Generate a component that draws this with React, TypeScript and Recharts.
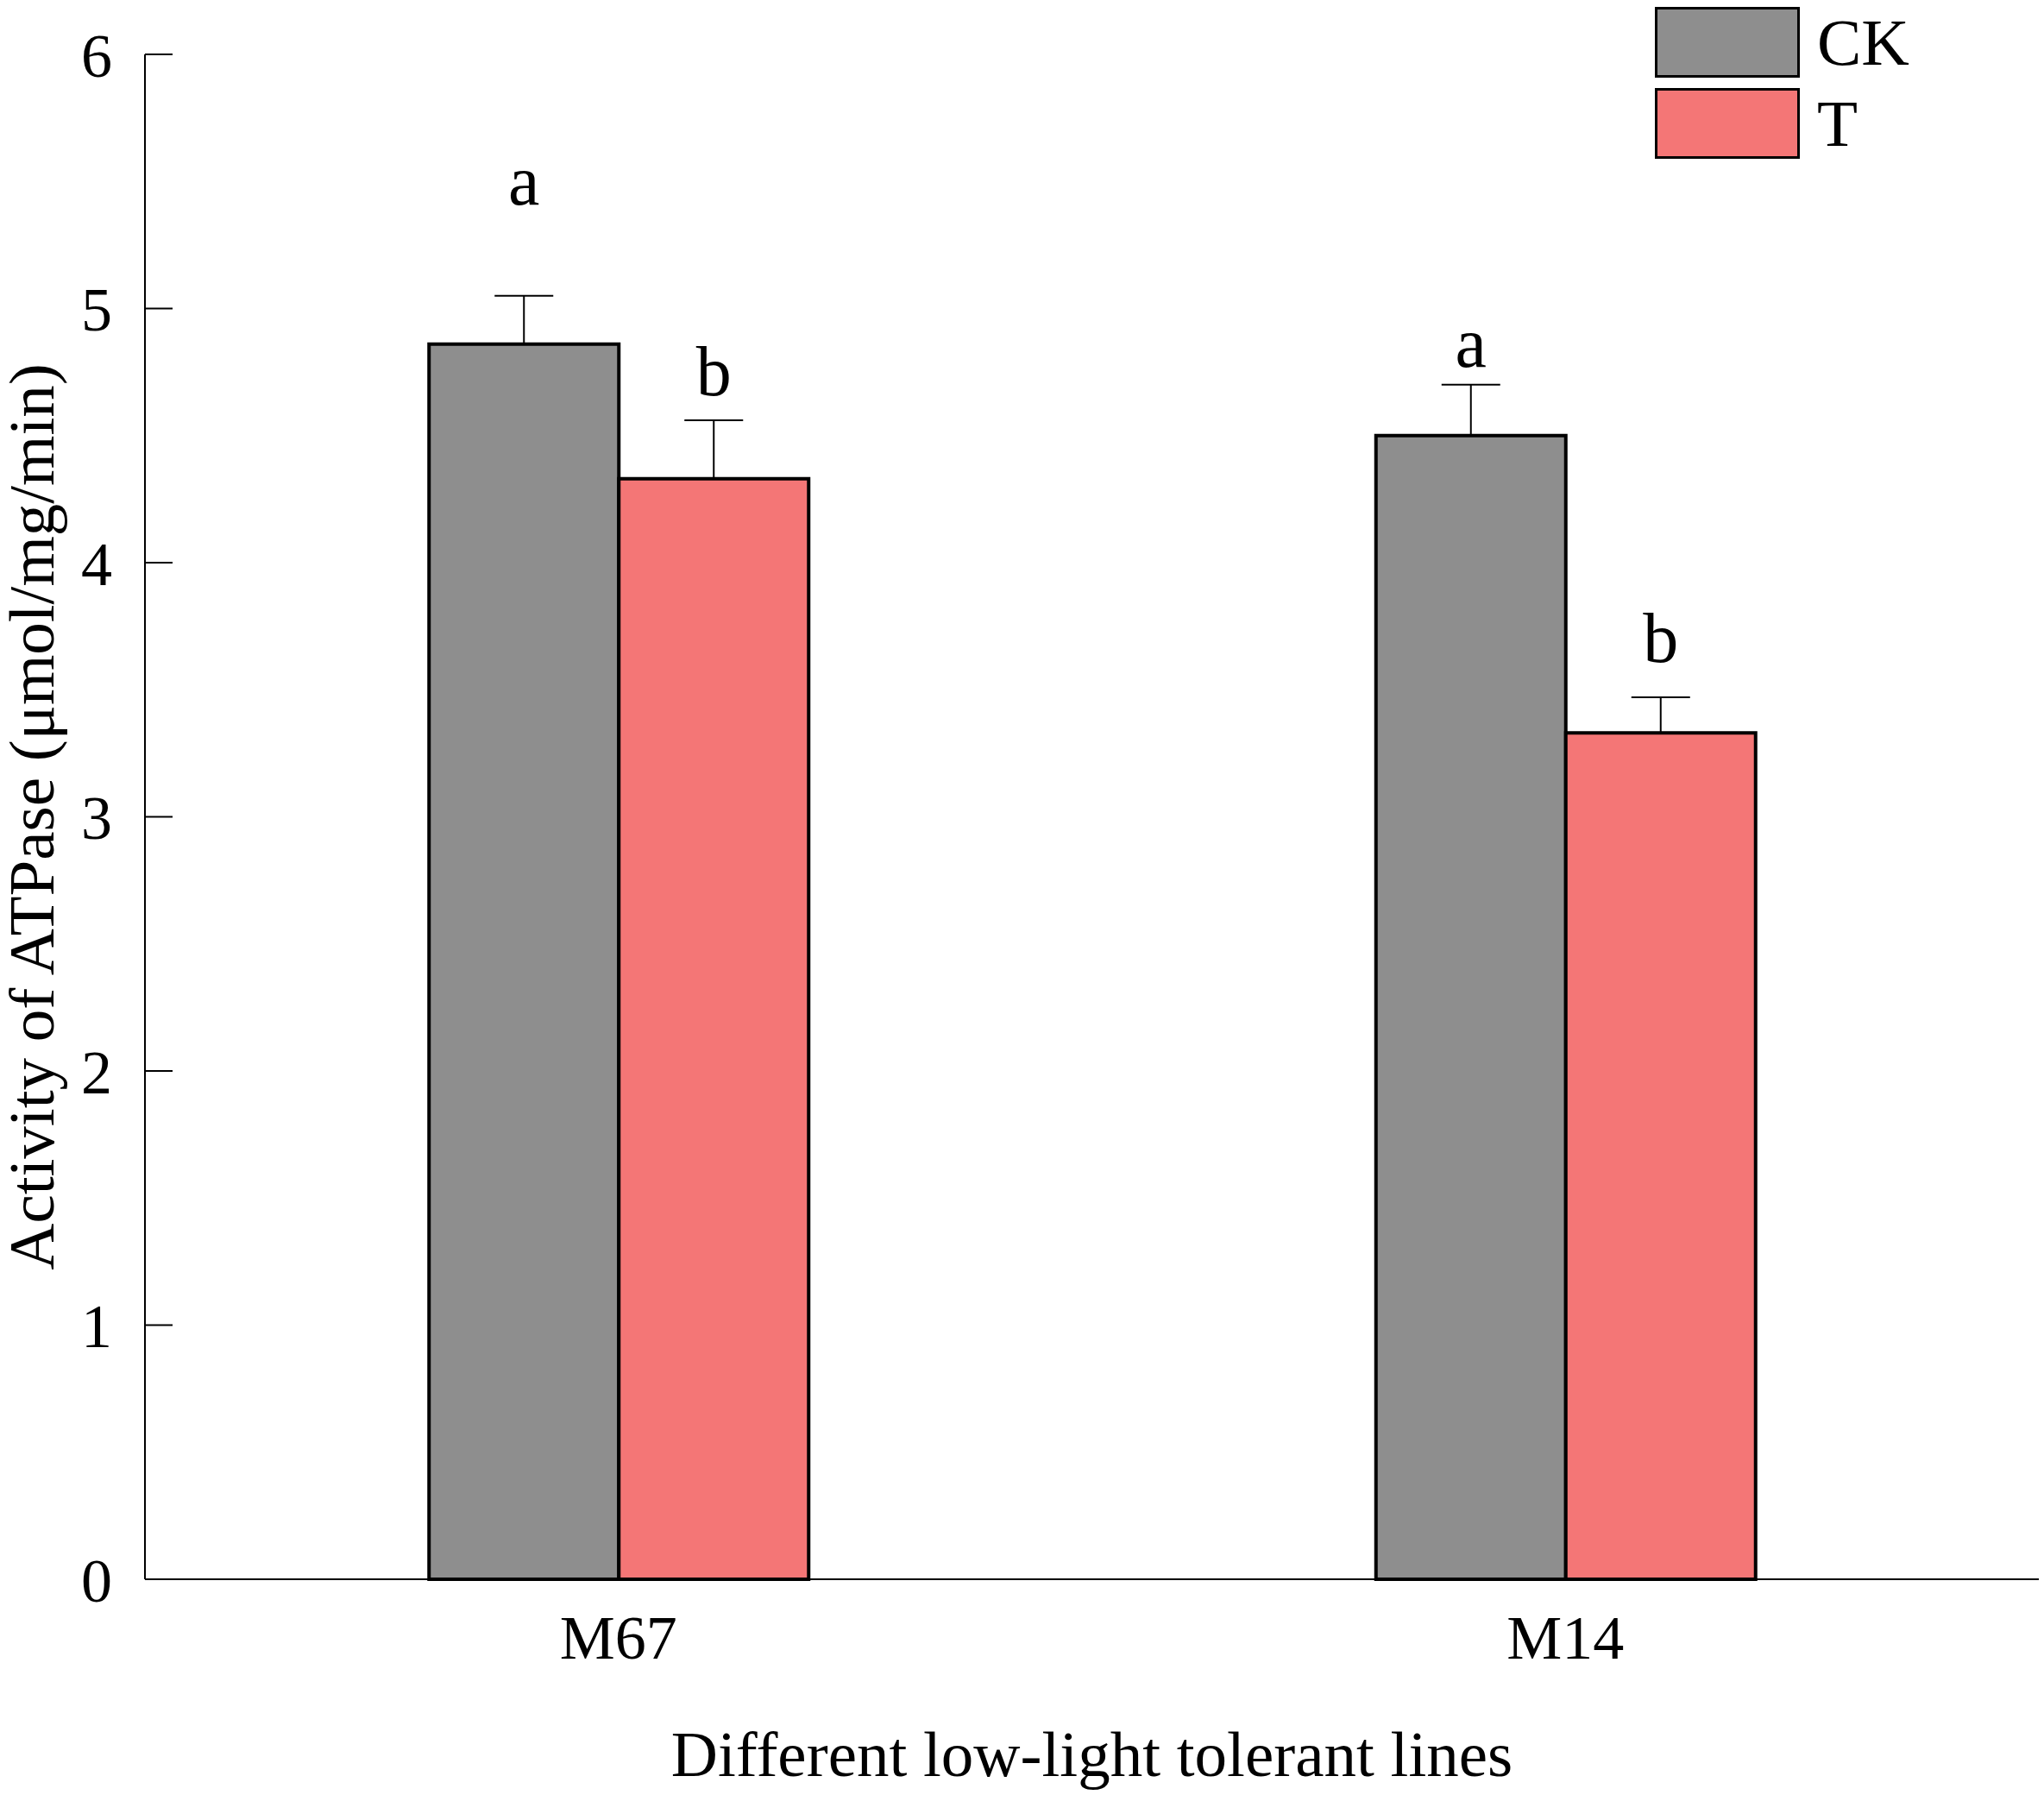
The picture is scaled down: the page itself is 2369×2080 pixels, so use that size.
import { BarChart, Bar, XAxis, YAxis, ErrorBar, LabelList, Legend } from 'recharts';

const categories = ['M67', 'M14'];
const ckValues = [4.86, 4.5];
const tValues = [4.33, 3.33];
const ckErrors = [0.19, 0.2];
const tErrors = [0.23, 0.14];
const ckLetters = ['a', 'a'];
const tLetters = ['b', 'b'];
// height (in data units) of each letter's baseline
const ckLetterY = [5.41, 4.77];
const tLetterY = [4.66, 3.61];
const yTicks = [0, 1, 2, 3, 4, 5, 6];

const series = [
  { key: 'ck', name: 'CK', color: '#8e8e8e' },
  { key: 't', name: 'T', color: '#f47676' },
];

const FONT = '"Liberation Serif", "Times New Roman", serif';

const data = categories.map((name, i) => ({
  name,
  ck: ckValues[i],
  t: tValues[i],
  ckErr: [0, ckErrors[i]],
  tErr: [0, tErrors[i]],
}));

function makeLetterLabel(letters: string[], letterY: number[], values: number[]) {
  return (props: any) => {
    const box = props.viewBox || props;
    const { x, y, width, height } = box;
    const i = props.index;
    if (i == null || !height) return null;
    const pxPerUnit = height / values[i];
    const baseline = y - (letterY[i] - values[i]) * pxPerUnit;
    return (
      <text x={x + width / 2} y={baseline} textAnchor="middle" fontSize={82} fontFamily={FONT} fill="#000">
        {letters[i]}
      </text>
    );
  };
}

function LegendBox() {
  return (
    <div style={{ display: 'flex', flexDirection: 'column', gap: 12 }}>
      {series.map((s) => (
        <div key={s.key} style={{ display: 'flex', alignItems: 'center', height: 82 }}>
          <div
            style={{
              width: 168,
              height: 82,
              boxSizing: 'border-box',
              border: '3px solid #000',
              background: s.color,
            }}
          />
          <span style={{ marginLeft: 20, fontSize: 77, lineHeight: 1, fontFamily: FONT, color: '#000' }}>{s.name}</span>
        </div>
      ))}
    </div>
  );
}

export default function App() {
  return (
    <div style={{ position: 'absolute', left: 0, top: 0, background: '#fff' }}>
      <BarChart
        width={2369}
        height={2080}
        data={data}
        margin={{ top: 63, right: 6, left: 0, bottom: 0 }}
        barCategoryGap="30%"
        barGap={0}
      >
        <XAxis
          dataKey="name"
          height={250}
          tickLine={false}
          tickSize={0}
          tickMargin={41}
          axisLine={{ stroke: '#000', strokeWidth: 2 }}
          tick={{ fontSize: 72, fontFamily: FONT, fill: '#000' }}
          label={{
            value: 'Different low-light tolerant lines',
            position: 'insideBottom',
            offset: 22,
            style: { fontSize: 75, fontFamily: FONT, fill: '#000' },
          }}
        />
        <YAxis
          type="number"
          domain={[0, 6]}
          ticks={yTicks}
          width={168}
          tickSize={-32}
          tickMargin={70}
          interval={0}
          axisLine={{ stroke: '#000', strokeWidth: 2 }}
          tickLine={{ stroke: '#000', strokeWidth: 2 }}
          tick={{ fontSize: 72, fontFamily: FONT, fill: '#000' }}
          label={{
            value: 'Activity of ATPase (μmol/mg/min)',
            angle: -90,
            position: 'insideLeft',
            offset: 35,
            style: { fontSize: 75, fontFamily: FONT, fill: '#000', textAnchor: 'middle' },
          }}
        />
        <Legend
          layout="horizontal"
          verticalAlign="middle"
          align="center"
          wrapperStyle={{ top: 8, left: 1918, width: 'auto' }}
          content={() => <LegendBox />}
        />
        <Bar dataKey="ck" name="CK" fill={series[0].color} stroke="#000" strokeWidth={4} isAnimationActive={false}>
          <ErrorBar dataKey="ckErr" direction="y" width={34} stroke="#000" strokeWidth={2} />
          <LabelList dataKey="ck" content={makeLetterLabel(ckLetters, ckLetterY, ckValues)} />
        </Bar>
        <Bar dataKey="t" name="T" fill={series[1].color} stroke="#000" strokeWidth={4} isAnimationActive={false}>
          <ErrorBar dataKey="tErr" direction="y" width={34} stroke="#000" strokeWidth={2} />
          <LabelList dataKey="t" content={makeLetterLabel(tLetters, tLetterY, tValues)} />
        </Bar>
      </BarChart>
    </div>
  );
}
